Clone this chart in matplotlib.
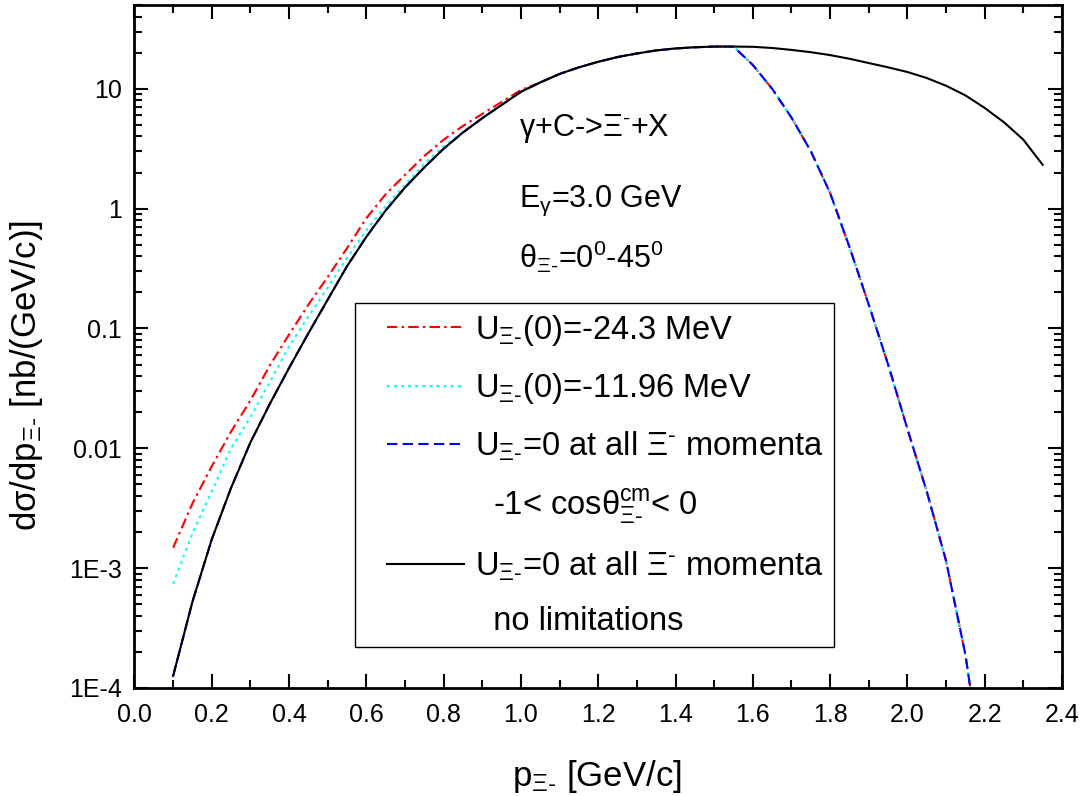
import matplotlib
matplotlib.use("Agg")
import numpy as np
import matplotlib.pyplot as plt
from matplotlib.lines import Line2D
from matplotlib.legend_handler import HandlerLine2D
from matplotlib.ticker import LogLocator, MultipleLocator, NullFormatter, FormatStrFormatter

plt.rcParams['font.family'] = ['Liberation Sans', 'DejaVu Sans']
plt.rcParams['mathtext.fontset'] = 'custom'
plt.rcParams['mathtext.rm'] = 'Liberation Sans'
plt.rcParams['mathtext.it'] = 'Liberation Sans'
plt.rcParams['mathtext.bf'] = 'Liberation Sans:bold'
plt.rcParams['mathtext.default'] = 'regular'

# --[Values]-------------------------------------------------------------------
# U=0, no limitations (black) -- also the common part of all curves
p_black = [0.10, 0.15, 0.20, 0.25, 0.30, 0.35, 0.40, 0.45, 0.50, 0.55,
           0.60, 0.65, 0.70, 0.75, 0.80, 0.85, 0.90, 0.95, 1.00, 1.05,
           1.10, 1.15, 1.20, 1.25, 1.30, 1.35, 1.40, 1.45, 1.50, 1.55,
           1.60, 1.65, 1.70, 1.75, 1.80, 1.85, 1.90, 1.95, 2.00, 2.05,
           2.10, 2.15, 2.20, 2.25, 2.30, 2.35]
sig_black = [1.26e-4, 5.25e-4, 1.74e-3, 4.68e-3, 0.0112, 0.0234, 0.0468, 0.0912, 0.174, 0.331,
             0.582, 0.966, 1.50, 2.21, 3.16, 4.32, 5.69, 7.33, 9.44, 11.3,
             13.3, 15.1, 16.8, 18.4, 19.7, 20.9, 21.7, 22.2, 22.5, 22.5,
             22.4, 21.9, 21.1, 20.2, 19.1, 17.8, 16.4, 15.1, 13.8, 12.3,
             10.6, 8.81, 6.92, 5.25, 3.76, 2.32]

# U(0) = -24.3 MeV (red), low momentum part
p_red_low = [0.10, 0.15, 0.20, 0.25, 0.30, 0.35, 0.40, 0.45, 0.50, 0.55,
             0.60, 0.65, 0.70, 0.75, 0.80, 0.85, 0.90, 0.95, 1.00]
sig_red_low = [1.48e-3, 3.47e-3, 7.08e-3, 0.0138, 0.0251, 0.0490, 0.0891, 0.158, 0.269, 0.468,
               0.832, 1.32, 1.91, 2.75, 3.76, 4.90, 6.17, 7.76, 9.77]

# U(0) = -11.96 MeV (cyan), low momentum part
p_cyan_low = [0.10, 0.15, 0.20, 0.25, 0.30, 0.35, 0.40, 0.45, 0.50, 0.55,
              0.60, 0.65, 0.70, 0.75, 0.80, 0.85]
sig_cyan_low = [7.41e-4, 1.95e-3, 4.37e-3, 0.0100, 0.0182, 0.0355, 0.0708, 0.126, 0.219, 0.389,
                0.661, 1.05, 1.58, 2.37, 3.31, 4.37]

# -1 < cos(theta_cm) < 0 : steep fall above the peak (same for all three U)
p_fall = [1.55, 1.60, 1.65, 1.70, 1.75, 1.80, 1.85, 1.90, 1.95, 2.00,
          2.05, 2.10, 2.15, 2.165]
sig_fall = [22.5, 15.8, 10.0, 5.75, 3.02, 1.35, 0.479, 0.158, 0.0501, 0.0145,
            4.37e-3, 1.15e-3, 1.9e-4, 8.9e-5]

ytick_vals = [1e-4, 1e-3, 1e-2, 1e-1, 1, 10]
ytick_text = ['1E-4', '1E-3', '0.01', '0.1', '1', '10']


# --[Build the curves]---------------------------------------------------------
pb = np.array(p_black)
sb = np.array(sig_black)
pf = np.array(p_fall)
sf = np.array(sig_fall)

m = pb <= 1.55
p_blue = np.concatenate([pb[m], pf[1:]])
s_blue = np.concatenate([sb[m], sf[1:]])

m = (pb > 1.0) & (pb <= 1.55)
p_red = np.concatenate([p_red_low, pb[m], pf[1:]])
s_red = np.concatenate([sig_red_low, sb[m], sf[1:]])

m = (pb > 0.85) & (pb <= 1.55)
p_cyan = np.concatenate([p_cyan_low, pb[m], pf[1:]])
s_cyan = np.concatenate([sig_cyan_low, sb[m], sf[1:]])


# --[Plot]---------------------------------------------------------------------
fig = plt.figure(figsize=(10.88, 7.96), dpi=100)
ax = fig.add_axes([0.1236, 0.1357, 0.8525, 0.858])

lw = 1.5
h_red, = ax.plot(p_red, s_red, color='#ff0000', lw=lw, dashes=[5, 2, 1.2, 2])
h_cyan, = ax.plot(p_cyan, s_cyan, color='#00ffff', lw=lw, dashes=[1.4, 2])
h_blue, = ax.plot(p_blue, s_blue, color='#0000ff', lw=lw, dashes=[5, 2.5])
h_black, = ax.plot(pb, sb, color='black', lw=lw)

ax.set_yscale('log')
ax.set_xlim(0.0, 2.4)
ax.set_ylim(1e-4, 50)

ax.xaxis.set_major_locator(MultipleLocator(0.2))
ax.xaxis.set_minor_locator(MultipleLocator(0.1))
ax.xaxis.set_major_formatter(FormatStrFormatter('%.1f'))
ax.set_yticks(ytick_vals)
ax.set_yticklabels(ytick_text)
ax.yaxis.set_minor_locator(LogLocator(base=10, subs=np.arange(2, 10)))
ax.yaxis.set_minor_formatter(NullFormatter())

ax.tick_params(which='both', direction='in', top=True, right=True, width=1.5)
ax.tick_params(which='major', length=10, labelsize=18)
ax.tick_params(which='minor', length=5.5)
ax.tick_params(axis='x', which='major', pad=11)
ax.tick_params(axis='y', which='major', pad=9)
for s in ax.spines.values():
    s.set_linewidth(2.0)

ax.set_xlabel('p$_{Ξ‐}$ [GeV/c]', fontsize=25)
ax.xaxis.set_label_coords(0.4987, -0.103)
ax.set_ylabel('dσ/dp$_{Ξ‐}$ [nb/(GeV/c)]', fontsize=25)
ax.yaxis.set_label_coords(-0.097, 0.458)

# reaction info
ax.text(0.4146, 0.808, 'γ+C->Ξ$^‐$+X', transform=ax.transAxes, fontsize=22, va='baseline')
ax.text(0.4146, 0.7037, 'E$_γ$=3.0 GeV', transform=ax.transAxes, fontsize=22, va='baseline')
ax.text(0.4146, 0.6145, 'θ$_{Ξ‐}$=0$^0$-45$^0$', transform=ax.transAxes, fontsize=22, va='baseline')

blank = Line2D([], [], linestyle='none')
handles = [h_red, h_cyan, h_blue, blank, h_black, blank]
labels = ['U$_{Ξ‐}$(0)=-24.3 MeV',
          'U$_{Ξ‐}$(0)=-11.96 MeV',
          'U$_{Ξ‐}$=0 at all Ξ$^‐$ momenta',
          '  -1< cos$θ^{cm}_{Ξ‐}$< 0',
          'U$_{Ξ‐}$=0 at all Ξ$^‐$ momenta',
          '  no limitations']
leg = ax.legend(handles, labels, loc='upper left', bbox_to_anchor=(0.2377, 0.5637),
                borderaxespad=0, fontsize=23.5, fancybox=False, edgecolor='black',
                framealpha=1, handlelength=3.05, handletextpad=0.34,
                labelspacing=0.72, borderpad=0.3,
                handler_map={Line2D: HandlerLine2D(xpad=0.68)})
leg.get_frame().set_linewidth(1.0)

fig.savefig('out.png', dpi=100)
